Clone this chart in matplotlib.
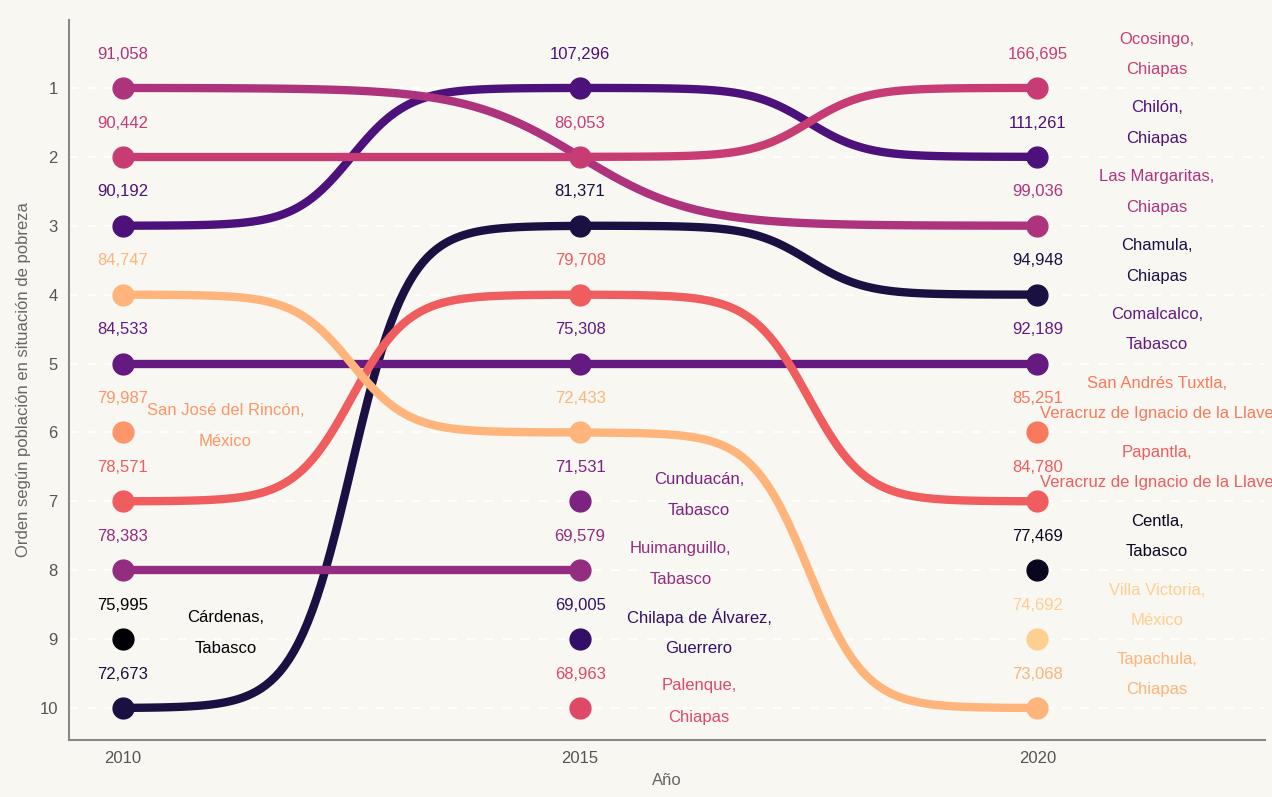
import numpy as np
import matplotlib.pyplot as plt

plt.rcParams['font.family'] = ['Liberation Sans', 'DejaVu Sans']

years = [2010, 2015, 2020]

# municipio, estado (alphabetical order -> magma colours)
municipios = ["Cárdenas", "Centla", "Chamula", "Chilapa de Álvarez", "Chilón",
              "Comalcalco", "Cunduacán", "Huimanguillo", "Las Margaritas",
              "Ocosingo", "Palenque", "Papantla", "San Andrés Tuxtla",
              "San José del Rincón", "Tapachula", "Villa Victoria"]
estados = ["Tabasco", "Tabasco", "Chiapas", "Guerrero", "Chiapas",
           "Tabasco", "Tabasco", "Tabasco", "Chiapas",
           "Chiapas", "Chiapas", "Veracruz de Ignacio de la Llave",
           "Veracruz de Ignacio de la Llave", "México", "Chiapas", "México"]

# rank per year (None = not in top 10)
rank_2010 = [9, None, 10, None, 3, 5, None, 8, 1, 2, None, 7, None, 6, 4, None]
rank_2015 = [None, None, 3, 9, 1, 5, 7, 8, None, 2, 10, 4, None, None, 6, None]
rank_2020 = [None, 8, 4, None, 2, 5, None, None, 3, 1, None, 7, 6, None, 10, 9]

# population in poverty
pob_2010 = [75995, None, 72673, None, 90192, 84533, None, 78383, 91058, 90442,
            None, 78571, None, 79987, 84747, None]
pob_2015 = [None, None, 81371, 69005, 107296, 75308, 71531, 69579, None, 86053,
            68963, 79708, None, None, 72433, None]
pob_2020 = [None, 77469, 94948, None, 111261, 92189, None, None, 99036, 166695,
            None, 84780, 85251, None, 73068, 74692]

ranks = [rank_2010, rank_2015, rank_2020]
pobs = [pob_2010, pob_2015, pob_2020]

colors = plt.cm.magma(np.linspace(0, 0.9, len(municipios)))

fig = plt.figure(figsize=(12.72, 7.97), dpi=100, facecolor='#f9f7f2')
ax = fig.add_axes([0.0542, 0.0715, 0.9403, 0.9035])
ax.set_facecolor('#f9f7f2')

for r in range(1, 11):
    ax.axhline(r, color='white', lw=1.3, ls=(0, (5, 5)), zorder=0)


def sigmoid(x0, x1, y0, y1, smooth=8, n=100):
    t = np.linspace(-smooth, smooth, n)
    s = np.exp(t) / (np.exp(t) + 1)
    return (t + smooth) / (2 * smooth) * (x1 - x0) + x0, s * (y1 - y0) + y0


# bump lines (connect consecutive appearances)
for i in range(len(municipios)):
    pts = [(years[k], ranks[k][i]) for k in range(3) if ranks[k][i] is not None]
    for (x0, y0), (x1, y1) in zip(pts[:-1], pts[1:]):
        xs, ys = sigmoid(x0, x1, y0, y1)
        ax.plot(xs, ys, color=colors[i], lw=6, solid_capstyle='round', zorder=2 + i * 0.01)

# points and value labels
for i in range(len(municipios)):
    for k in range(3):
        r = ranks[k][i]
        if r is None:
            continue
        ax.plot(years[k], r, 'o', color=colors[i], ms=15, zorder=3)
        ax.text(years[k], r - 0.49, f"{pobs[k][i]:,}", color=colors[i],
                fontsize=12, ha='center', va='center', zorder=4)

# name labels at last appearance
nudge_x = {0: 1.12, 13: 1.12, 7: 1.1, 6: 1.3, 3: 1.3, 10: 1.3}
for i in range(len(municipios)):
    last = max(k for k in range(3) if ranks[k][i] is not None)
    r = ranks[last][i]
    if last == 2:
        x = years[2] + 1.31
        y1, y2 = r - 0.71, r - 0.27
    else:
        x = years[last] + nudge_x.get(i, 1.3)
        y1, y2 = r - 0.32, r + 0.13
    ax.text(x, y1, municipios[i] + ",", color=colors[i], fontsize=12,
            ha='center', va='center', zorder=4)
    ax.text(x, y2, estados[i], color=colors[i], fontsize=12,
            ha='center', va='center', zorder=4)

ax.set_xlim(2009.41, 2022.49)
ax.set_ylim(10.464, 0.013)
ax.set_xticks(years)
ax.set_yticks(range(1, 11))
ax.tick_params(length=0, labelsize=12, labelcolor='#555555', pad=8)
for s in ['top', 'right']:
    ax.spines[s].set_visible(False)
for s in ['left', 'bottom']:
    ax.spines[s].set_color('#888888')
    ax.spines[s].set_linewidth(1.5)
ax.set_xlabel("Año", fontsize=12, color='#666666', labelpad=5)
ax.set_ylabel("Orden según población en situación de pobreza", fontsize=12,
              color='#666666', labelpad=6)

fig.savefig('out.png', dpi=100, facecolor=fig.get_facecolor())
